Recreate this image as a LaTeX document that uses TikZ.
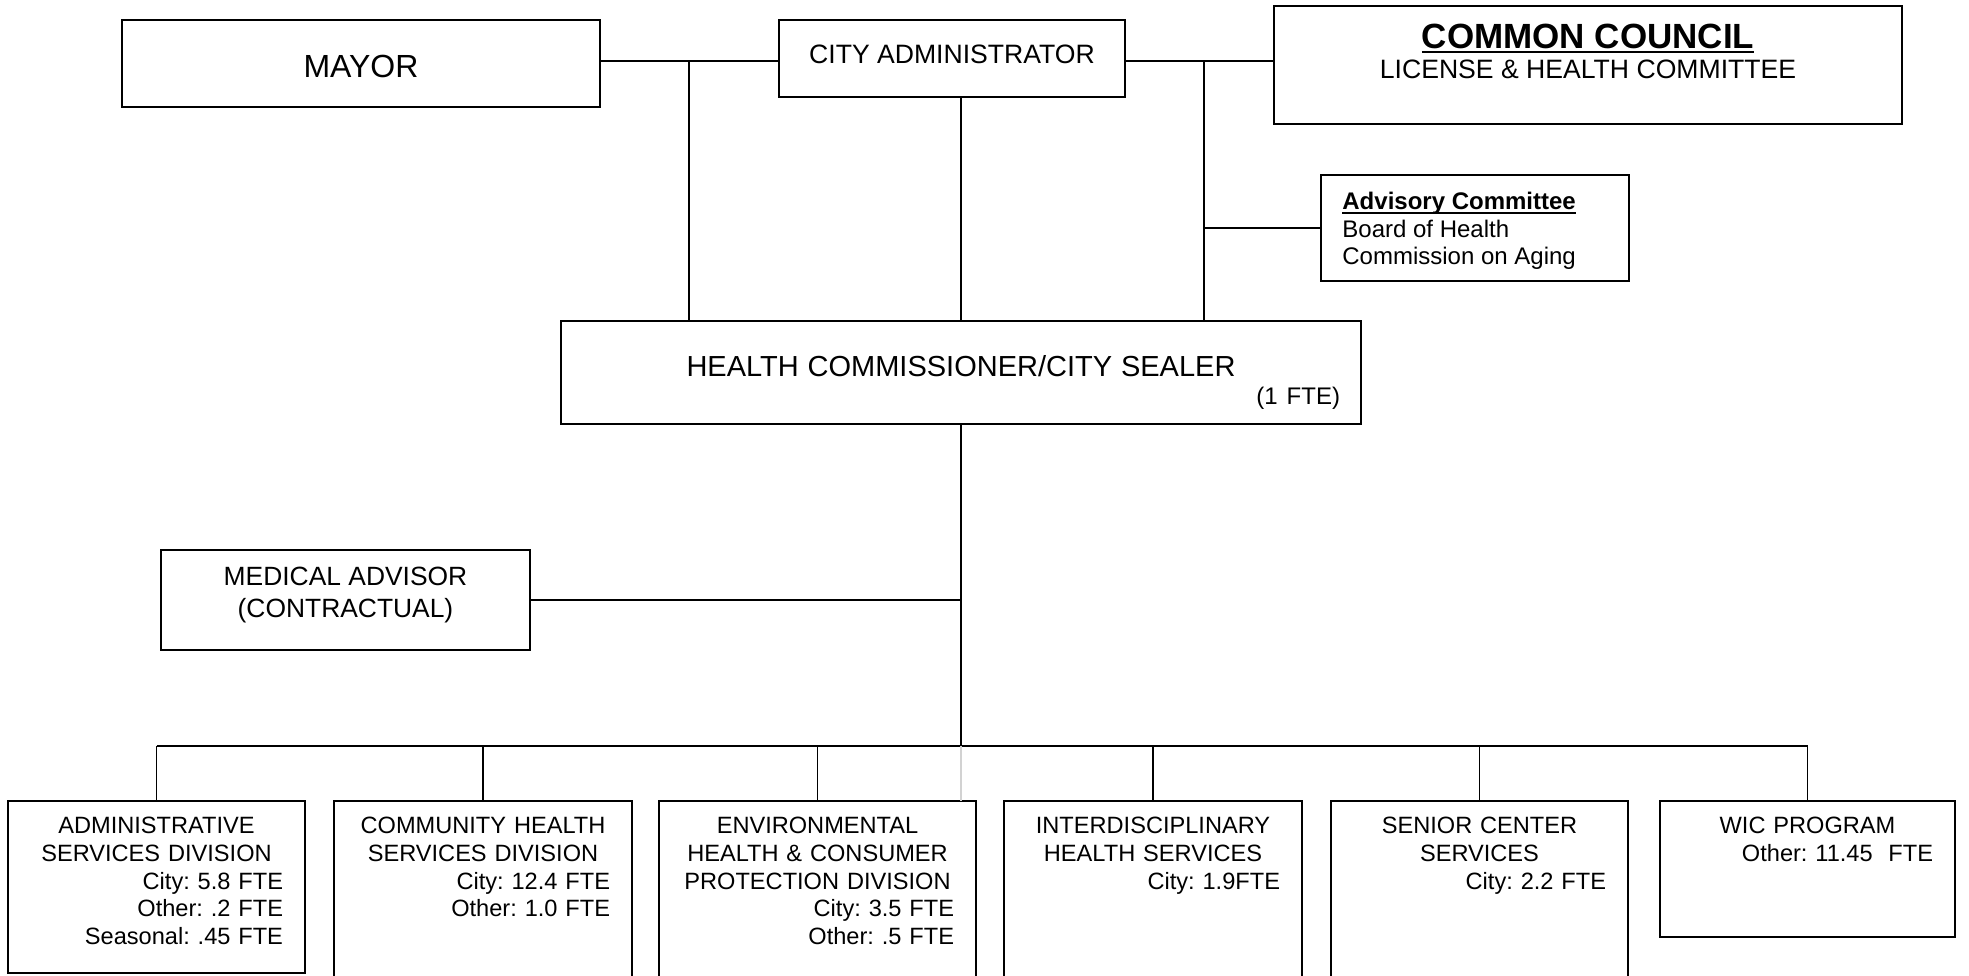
\documentclass[tikz,border=0pt]{standalone}
\usepackage{fontspec}
\setmainfont{Liberation Sans}
\usepackage{tikz}
\usetikzlibrary{positioning}
\setlength{\parindent}{0pt}
\frenchspacing
\newcommand{\ulined}[1]{\setbox0\hbox{#1}\rlap{\rule[-2.1pt]{\wd0}{1.2pt}}\box0}

\begin{document}
\begin{tikzpicture}[x=0.5pt, y=-0.5pt]

  \tikzset{unit/.style={draw, rectangle, line width=0.8pt, inner sep=0pt, outer sep=0pt}}
  \tikzset{txt/.style={inner sep=0pt, font=\fontsize{13.3}{15.5}\selectfont}}
  \tikzset{divtxt/.style={inner sep=0pt, font=\fontsize{11.8}{13.8}\selectfont}}
  \tikzset{link/.style={line width=0.65pt}}

  \useasboundingbox (0, 0) rectangle (1969, 975);

  % top row
  \node[unit, minimum width=239pt, minimum height=43.5pt] at (361, 63.5) (mayor) {};
  \node[txt, font=\fontsize{16}{19}\selectfont, below=17.5pt of mayor.north] (mayortxt) {MAYOR};
  \node[unit, minimum width=173pt, minimum height=38.5pt] at (952, 58.5) (ca) {};
  \node[txt, below=12.5pt of ca.north] (catxt) {CITY ADMINISTRATOR};
  \node[unit, minimum width=314pt, minimum height=59pt] at (1588, 65) (cc) {};
  \node[txt, font=\fontsize{13.3}{14.8}\selectfont, align=center, below=9pt of cc.north] (cctxt)
    {{\fontsize{17.5}{14.8}\selectfont\bfseries\ulined{COMMON COUNCIL}}\\LICENSE \& HEALTH COMMITTEE};
  \node[unit, minimum width=154pt, minimum height=53pt] at (1475, 228) (adv) {};
  \node[txt, font=\fontsize{12}{13.75}\selectfont, align=left, below right=8.5pt and 10.5pt of adv.north west] (advtxt)
    {\textbf{\ulined{Advisory Committee}}\\Board of Health\\Commission on Aging};

  % health commissioner
  \node[unit, minimum width=400pt, minimum height=51.5pt] at (961, 372.5) (hc) {};
  \node[txt, text width=379pt, below=17pt of hc.north] (hctxt)
    {{\centering\fontsize{14.5}{17}\selectfont HEALTH COMMISSIONER/CITY SEALER\par}{\raggedleft\fontsize{12}{14}\selectfont (1 FTE)\par}};

  % medical advisor
  \node[unit, minimum width=184.5pt, minimum height=50pt] at (345.5, 600) (med) {};
  \node[txt, font=\fontsize{13.2}{15.8}\selectfont, align=center, below=8.5pt of med.north] (medtxt)
    {MEDICAL ADVISOR\\(CONTRACTUAL)};

  % divisions
  \node[unit, minimum width=148.5pt, minimum height=86pt] at (156.5, 887) (adm) {};
  \node[unit, minimum width=149pt, minimum height=94.5pt] at (483, 895.5) (chs) {};
  \node[unit, minimum width=158.5pt, minimum height=94.5pt] at (817.5, 895.5) (env) {};
  \node[unit, minimum width=149pt, minimum height=94.5pt] at (1153, 895.5) (ihs) {};
  \node[unit, minimum width=148.5pt, minimum height=94.5pt] at (1479.5, 895.5) (sen) {};
  \node[unit, minimum width=147.5pt, minimum height=68pt] at (1807.5, 869) (wic) {};

  \node[divtxt, text width=126.5pt, below=8pt of adm.north] (admtxt)
    {{\centering ADMINISTRATIVE\\SERVICES DIVISION\par}{\raggedleft City: 5.8 FTE\\Other: .2 FTE\\Seasonal: .45 FTE\par}};
  \node[divtxt, text width=127pt, below=8pt of chs.north] (chstxt)
    {{\centering COMMUNITY HEALTH\\SERVICES DIVISION\par}{\raggedleft City: 12.4 FTE\\Other: 1.0 FTE\par}};
  \node[divtxt, text width=136.5pt, below=8pt of env.north] (envtxt)
    {{\centering ENVIRONMENTAL\\HEALTH \& CONSUMER\\PROTECTION DIVISION\par}{\raggedleft City: 3.5 FTE\\Other: .5 FTE\par}};
  \node[divtxt, text width=127pt, below=8pt of ihs.north] (ihstxt)
    {{\centering INTERDISCIPLINARY\\HEALTH SERVICES\par}{\raggedleft City: 1.9FTE\par}};
  \node[divtxt, text width=126.5pt, below=8pt of sen.north] (sentxt)
    {{\centering SENIOR CENTER\\SERVICES\par}{\raggedleft City: 2.2 FTE\par}};
  \node[divtxt, text width=125.5pt, below=8pt of wic.north] (wictxt)
    {{\centering WIC PROGRAM\par}{\raggedleft Other: 11.45\ \ FTE\par}};

  % connectors
  \coordinate (jl) at (689, 61);
  \coordinate (jr) at (1204, 61);
  \coordinate (bus) at (961, 746);

  \draw[link] (mayor.east |- jl) -- (ca.west |- jl);
  \draw[link] (ca.east |- jr) -- (cc.west |- jr);
  \draw[link] (jl) -- (jl |- hc.north);
  \draw[link] (ca.south -| hc.north) -- (hc.north);
  \draw[link] (jr) -- (jr |- hc.north);
  \draw[link] (jr |- adv.west) -- (adv.west);
  \draw[link] (hc.south) -- (bus);
  \draw[link] (med.east) -- (med.east -| bus);
  \draw[link] (adm.north |- bus) -- (wic.north |- bus);
  \foreach \d in {adm, chs, env, ihs, sen, wic}
    \draw[link] (\d.north |- bus) -- (\d.north);
  \draw[link, gray!35] (bus) -- (bus |- env.north);
\end{tikzpicture}
\end{document}
